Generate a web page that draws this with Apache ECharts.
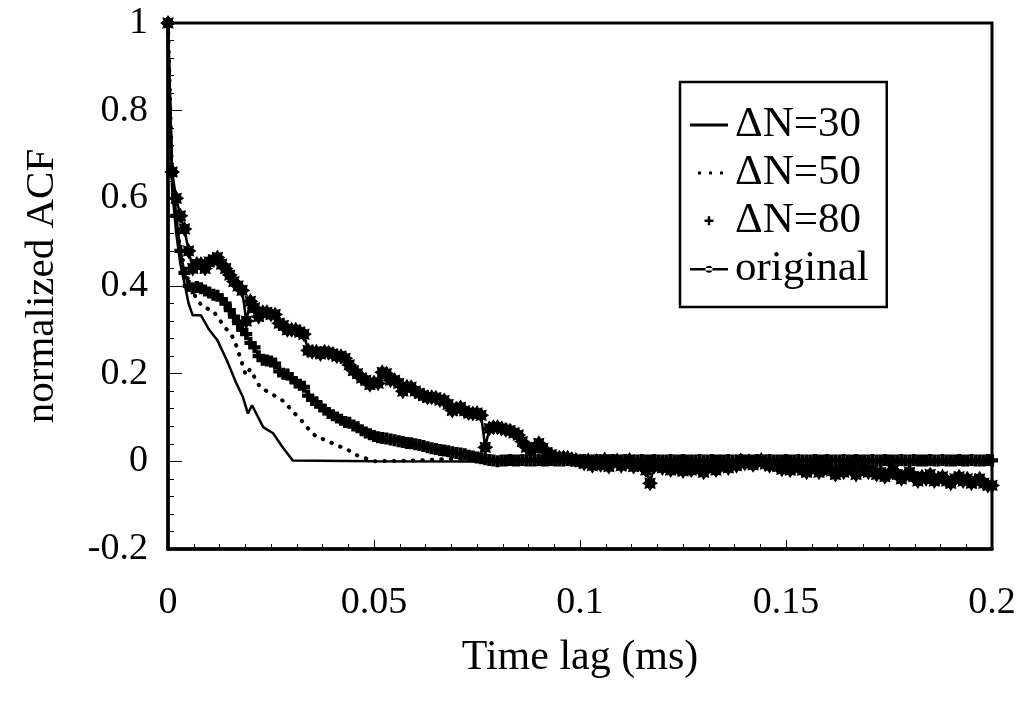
<!DOCTYPE html>
<html>
<head>
<meta charset="utf-8">
<script src="https://cdn.jsdelivr.net/npm/echarts@6/dist/echarts.min.js"></script>
<style>
html,body{margin:0;padding:0;background:#fff;}
#chart{width:1020px;height:703px;}
</style>
</head>
<body>
<div id="chart"></div>
<script>
// ---- data ----
const lagStep = 0.001; // ms between samples of the dense series

const originalVals = [
 1.0, 0.66, 0.60, 0.56, 0.53, 0.48, 0.44, 0.45, 0.45, 0.44,
 0.455, 0.46, 0.465, 0.45, 0.44, 0.425, 0.41, 0.40, 0.39, 0.32,
 0.365, 0.35, 0.33, 0.34, 0.34, 0.335, 0.335, 0.315, 0.31, 0.30,
 0.30, 0.30, 0.295, 0.29, 0.253, 0.25, 0.25, 0.245, 0.25, 0.248,
 0.245, 0.24, 0.24, 0.235, 0.22, 0.207, 0.20, 0.19, 0.185, 0.175,
 0.18, 0.178, 0.203, 0.20, 0.185, 0.185, 0.178, 0.16, 0.17, 0.169,
 0.16, 0.155, 0.15, 0.146, 0.146, 0.145, 0.14, 0.139, 0.13, 0.116,
 0.12, 0.123, 0.115, 0.11, 0.109, 0.11, 0.105, 0.032, 0.075, 0.078,
 0.078, 0.075, 0.072, 0.07, 0.065, 0.06, 0.045, 0.032, 0.025, 0.03,
 0.041, 0.03, 0.02, 0.015, 0.01, 0.008, 0.009, 0.008, 0.005, 0.003,
 0.0, -0.005, 0.002, -0.01, 0.0, -0.008, 0.004, -0.012, -0.003, 0.002,
 -0.01, -0.006, 0.003, -0.012, -0.004, -0.01, -0.02, -0.05, -0.012, -0.005,
 -0.015, -0.01, -0.02, -0.012, -0.018, -0.022, -0.015, -0.02, -0.012, -0.018,
 -0.025, -0.015, -0.01, -0.02, -0.012, -0.008, -0.015, -0.005, -0.01, 0.002,
 -0.005, 0.0, -0.008, -0.002, 0.003, -0.006, -0.01, -0.004, -0.012, -0.018,
 -0.01, -0.02, -0.015, -0.008, -0.02, -0.025, -0.018, -0.012, -0.025, -0.02,
 -0.015, -0.022, -0.03, -0.018, -0.025, -0.015, -0.02, -0.03, -0.022, -0.015,
 -0.025, -0.02, -0.03, -0.025, -0.035, -0.028, -0.02, -0.03, -0.04, -0.032,
 -0.025, -0.035, -0.045, -0.035, -0.04, -0.03, -0.045, -0.04, -0.035, -0.045,
 -0.05, -0.04, -0.035, -0.045, -0.04, -0.05, -0.045, -0.04, -0.05, -0.055,
 -0.055
];

const n80Vals = [
 1.0, 0.66, 0.56, 0.48, 0.43, 0.40, 0.395, 0.398, 0.395, 0.39,
 0.385, 0.38, 0.378, 0.37, 0.36, 0.345, 0.33, 0.315, 0.30, 0.29,
 0.27, 0.26, 0.24, 0.232, 0.23, 0.228, 0.223, 0.205, 0.20, 0.198,
 0.19, 0.18, 0.175, 0.17, 0.15, 0.14, 0.135, 0.125, 0.118, 0.11,
 0.105, 0.10, 0.095, 0.09, 0.088, 0.082, 0.078, 0.071, 0.066, 0.062,
 0.058, 0.055, 0.053, 0.052, 0.05, 0.048, 0.046, 0.044, 0.042, 0.041,
 0.039, 0.037, 0.035, 0.032, 0.03, 0.028, 0.026, 0.025, 0.023, 0.021,
 0.019, 0.018, 0.016, 0.013, 0.011, 0.009, 0.007, 0.005, 0.003, 0.002,
 0.0, 0.002, 0.002, 0.003, 0.002, 0.002, 0.003, 0.002, 0.002, 0.002,
 0.003, 0.002, 0.002, 0.003, 0.002, 0.002, 0.002, 0.003, 0.002, 0.002,
 0.002, 0.003, 0.002, 0.002, 0.003, 0.002, 0.002, 0.002, 0.003, 0.002,
 0.002, 0.003, 0.002, 0.002, 0.002, 0.003, 0.002, 0.002, 0.003, 0.002,
 0.002, 0.002, 0.003, 0.002, 0.002, 0.003, 0.002, 0.002, 0.002, 0.003,
 0.002, 0.002, 0.003, 0.002, 0.002, 0.002, 0.003, 0.002, 0.002, 0.003,
 0.002, 0.002, 0.002, 0.003, 0.002, 0.002, 0.003, 0.002, 0.002, 0.002,
 0.003, 0.002, 0.002, 0.003, 0.002, 0.002, 0.002, 0.003, 0.002, 0.002,
 0.003, 0.002, 0.002, 0.002, 0.003, 0.002, 0.002, 0.003, 0.002, 0.002,
 0.002, 0.003, 0.002, 0.002, 0.003, 0.002, 0.002, 0.002, 0.003, 0.002,
 0.002, 0.003, 0.002, 0.002, 0.002, 0.003, 0.002, 0.002, 0.003, 0.002,
 0.002, 0.002, 0.003, 0.002, 0.002, 0.003, 0.002, 0.002, 0.002, 0.003,
 0.002
];

const n30Lag = [0, 0.001, 0.002, 0.003, 0.004, 0.005, 0.006, 0.008, 0.010, 0.012, 0.0143, 0.0165, 0.0182, 0.0194, 0.0204, 0.0231, 0.0255, 0.028, 0.0303, 0.05, 0.1, 0.15, 0.2];
const n30Val = [1.0, 0.62, 0.52, 0.45, 0.406, 0.36, 0.333, 0.333, 0.30, 0.276, 0.23, 0.18, 0.146, 0.109, 0.128, 0.078, 0.064, 0.03, 0.002, 0.0, -0.001, -0.001, -0.003];

const n50Lag = [0, 0.001, 0.002, 0.003, 0.005, 0.007, 0.0085, 0.0109, 0.0138, 0.0155, 0.0167, 0.0189, 0.0199, 0.0223, 0.0243, 0.0264, 0.0284, 0.030, 0.032, 0.034, 0.0361, 0.0385, 0.0409, 0.043, 0.0458, 0.050, 0.060, 0.070, 0.080, 0.100, 0.200];
const n50Val = [1.0, 0.65, 0.55, 0.48, 0.41, 0.369, 0.352, 0.344, 0.306, 0.287, 0.261, 0.196, 0.21, 0.17, 0.158, 0.147, 0.135, 0.116, 0.098, 0.075, 0.055, 0.048, 0.036, 0.03, 0.014, 0.0, 0.002, 0.006, 0.002, 0.0, 0.0];

const xTicks = [0, 0.05, 0.1, 0.15, 0.2];
const yTicks = [-0.2, 0, 0.2, 0.4, 0.6, 0.8, 1];
const seriesNames = ['\u0394N=30', '\u0394N=50', '\u0394N=80', 'original'];

// ---- build ----
const pair = (xs, ys) => xs.map((x, i) => [x, ys[i]]);
const dense = ys => ys.map((y, i) => [+(i * lagStep).toFixed(4), y]);

const FONT = '"Liberation Serif","Times New Roman",serif';
const starPath = 'path://M10,5L8,6.3L8.54,8.54L6.3,8L5,10L3.7,8L1.46,8.54L2,6.3L0,5L2,3.7L1.46,1.46L3.7,2L5,0L6.3,2L8.54,1.46L8,3.7Z';
const plusPath = 'path://M3.25,0h3.5v3.25h3.25v3.5h-3.25v3.25h-3.5v-3.25h-3.25v-3.5h3.25z';

const chart = echarts.init(document.getElementById('chart'), null, {renderer: 'canvas'});
chart.setOption({
  backgroundColor: '#fff',
  animation: false,
  grid: {left: 168, right: 28, top: 23, bottom: 154, show: true, borderColor: '#000', borderWidth: 3, backgroundColor: 'transparent'},
  legend: {
    orient: 'vertical', left: 680, top: 82,
    padding: [21, 18, 17, 10], itemGap: 5,
    itemWidth: 40, itemHeight: 20,
    borderColor: '#000', borderWidth: 2.5, backgroundColor: '#fff',
    textStyle: {fontFamily: FONT, fontSize: 43, color: '#000'},
    itemStyle: {color: '#000', borderWidth: 0},
    selectedMode: false,
    data: [
      {name: seriesNames[0], icon: 'path://M0,0M40,20M0,9h38v3h-38z'},
      {name: seriesNames[1], icon: 'path://M0,0M40,20M8,9h3v3h-3zM19,9h3v3h-3zM30,9h3v3h-3z'},
      {name: seriesNames[2], icon: 'path://M0,0M40,20M14.5,9h9v2.5h-9zM17.75,5.75h2.5v9h-2.5z'},
      {name: seriesNames[3], icon: 'path://M0,0M40,20M0,9.5h38v2.5h-38zM15.5,10.75a3.5,3.5 0 1,0 7,0a3.5,3.5 0 1,0 -7,0z'}
    ]
  },
  xAxis: {
    type: 'value', min: xTicks[0], max: xTicks[xTicks.length - 1], interval: 0.05,
    name: 'Time lag (ms)', nameLocation: 'middle', nameGap: 88,
    nameTextStyle: {fontFamily: FONT, fontSize: 42, color: '#000'},
    axisLine: {show: true, onZero: false, lineStyle: {color: '#000', width: 3.5}},
    axisTick: {show: true, inside: true, length: 9, lineStyle: {color: '#000', width: 1}},
    minorTick: {show: true, splitNumber: 8, length: 5, lineStyle: {color: '#000', width: 1}},
    axisLabel: {fontFamily: FONT, fontSize: 38, color: '#000', margin: 35},
    splitLine: {show: false}
  },
  yAxis: {
    type: 'value', min: yTicks[0], max: yTicks[yTicks.length - 1], interval: 0.2,
    name: 'normalized ACF', nameLocation: 'middle', nameGap: 105, nameRotate: 90,
    nameTextStyle: {fontFamily: FONT, fontSize: 41, color: '#000'},
    axisLine: {show: true, onZero: false, lineStyle: {color: '#000', width: 3.5}},
    axisTick: {show: true, inside: true, length: 14, lineStyle: {color: '#000', width: 1}},
    minorTick: {show: true, splitNumber: 5, length: 6, lineStyle: {color: '#000', width: 1}},
    axisLabel: {fontFamily: FONT, fontSize: 38, color: '#000', margin: 20},
    splitLine: {show: false}
  },
  series: [
    {name: seriesNames[0], type: 'line', data: pair(n30Lag, n30Val), showSymbol: false, symbol: 'none',
     lineStyle: {color: '#000', width: 2.5}, itemStyle: {color: '#000'}, z: 3},
    {name: seriesNames[1], type: 'line', data: pair(n50Lag, n50Val), showSymbol: false, symbol: 'none',
     lineStyle: {color: '#000', width: 4, type: [0.5, 9], cap: 'round'}, itemStyle: {color: '#000'}, z: 3},
    {name: seriesNames[2], type: 'line', data: dense(n80Vals), symbol: plusPath, symbolSize: 12, showAllSymbol: true,
     lineStyle: {color: '#000', width: 2.5}, itemStyle: {color: '#000'}, z: 4},
    {name: seriesNames[3], type: 'line', data: dense(originalVals), symbol: starPath, symbolSize: 16, showAllSymbol: true,
     lineStyle: {color: '#000', width: 2.5}, itemStyle: {color: '#000'}, z: 5}
  ]
});
</script>
</body>
</html>
